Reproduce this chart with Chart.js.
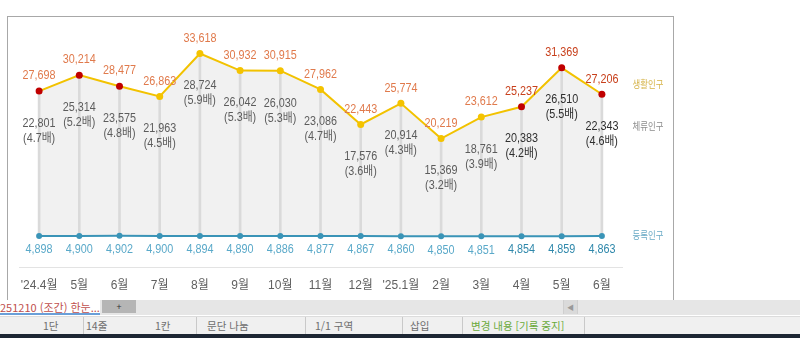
<!DOCTYPE html>
<html lang="ko">
<head>
<meta charset="utf-8">
<title>생활인구 · 체류인구 · 등록인구</title>
<script src="https://cdn.jsdelivr.net/npm/chart.js@4.4.1/dist/chart.umd.min.js"></script>
<style>
  html, body {
    margin: 0;
    padding: 0;
    width: 800px;
    height: 338px;
    overflow: hidden;
    background: #fff;
    font-family: "Noto Sans CJK KR", "Liberation Sans", sans-serif;
  }
  #frame {
    position: absolute;
    left: 7px;
    top: 16px;
    width: 665px;
    height: 290px;
    border: 1px solid #a8a8a8;
    border-bottom: none;
  }
  #chartBox {
    position: absolute;
    left: 0;
    top: 0;
    width: 800px;
    height: 300px;
  }
  #tabs {
    position: absolute;
    left: 0;
    top: 300px;
    width: 800px;
    height: 15px;
    background: #e6e6e6;
  }
  .tab-doc {
    position: absolute;
    left: 0;
    top: 0;
    width: 100px;
    height: 13px;
    background: #fff;
    border-bottom: 2px solid #6a9fd8;
    color: #c0504d;
    font-size: 11px;
    line-height: 14px;
    white-space: nowrap;
    overflow: hidden;
  }
  .tab-add {
    position: absolute;
    left: 102px;
    top: 0;
    width: 34px;
    height: 13px;
    background: #b5b5b5;
    color: #333;
    font-size: 9px;
    line-height: 13px;
    text-align: center;
  }
  .tab-scroll {
    position: absolute;
    left: 563px;
    top: 0;
    width: 13px;
    height: 14px;
    background: #dadada;
    border-left: 1px solid #cfcfcf;
    border-right: 1px solid #cfcfcf;
    color: #999;
    font-size: 7px;
    line-height: 14px;
    text-align: center;
  }
  #status {
    position: absolute;
    left: 0;
    top: 316px;
    width: 800px;
    height: 18px;
    background: #f0f0f0;
    border-top: 1px solid #dcdcdc;
    color: #6e6e6e;
    font-size: 10.5px;
  }
  #status span {
    position: absolute;
    top: 0;
    line-height: 18px;
    white-space: nowrap;
  }
  #status i {
    position: absolute;
    top: 0;
    width: 1px;
    height: 18px;
    background: #c9c9c9;
  }
  #taskbar {
    position: absolute;
    left: 0;
    top: 334px;
    width: 800px;
    height: 4px;
    background: #1d2633;
  }
</style>
</head>
<body>
<div id="frame"></div>
<div id="chartBox"><canvas id="popChart"></canvas></div>

<div id="tabs">
  <div class="tab-doc">251210 (조간) 한눈...</div>
  <div class="tab-add">+</div>
  <div class="tab-scroll">◀</div>
</div>
<div id="status">
  <span style="left:43px">1단</span>
  <i style="left:83px"></i>
  <span style="left:86px">14줄</span>
  <span style="left:155px">1칸</span>
  <i style="left:196px"></i>
  <span style="left:207px">문단 나눔</span>
  <i style="left:305px"></i>
  <span style="left:315px">1/1 구역</span>
  <i style="left:402px"></i>
  <span style="left:410px">삽입</span>
  <i style="left:462px"></i>
  <span style="left:471px; color:#6aaa3c">변경 내용 [기록 중지]</span>
  <i style="left:584px"></i>
</div>
<div id="taskbar"></div>

<script>
// 월별 인구 (명)
var months = ["'24.4월", "5월", "6월", "7월", "8월", "9월", "10월", "11월", "12월", "'25.1월", "2월", "3월", "4월", "5월", "6월"];
var livePop = [27698, 30214, 28477, 26863, 33618, 30932, 30915, 27962, 22443, 25774, 20219, 23612, 25237, 31369, 27206];
var stayPop = [22801, 25314, 23575, 21963, 28724, 26042, 26030, 23086, 17576, 20914, 15369, 18761, 20383, 26510, 22343];
var stayRatio = ["4.7", "5.2", "4.8", "4.5", "5.9", "5.3", "5.3", "4.7", "3.6", "4.3", "3.2", "3.9", "4.2", "5.5", "4.6"];
var regPop = [4898, 4900, 4902, 4900, 4894, 4890, 4886, 4877, 4867, 4860, 4850, 4851, 4854, 4859, 4863];

// 빨간 점으로 표시하는 달, 진하게 쓰는 최근 석 달
var redPoints = [0, 1, 2, 12, 13, 14];
var strongFrom = 12;

var FONT = '"Liberation Sans", "Noto Sans CJK KR", sans-serif';

function fmt(n) {
  return n.toLocaleString("en-US");
}

// 좁은 글꼴처럼 보이도록 가로로 살짝 줄여서 쓴다
function drawText(ctx, text, x, y, color, size, sx) {
  ctx.save();
  ctx.translate(x, y);
  ctx.scale(sx, 1);
  ctx.fillStyle = color;
  ctx.font = size + "px " + FONT;
  ctx.textAlign = "center";
  ctx.textBaseline = "middle";
  ctx.fillText(text, 0, 0);
  ctx.restore();
}

var labelPlugin = {
  id: "popLabels",
  afterDatasetsDraw: function (chart) {
    var ctx = chart.ctx;
    var live = chart.getDatasetMeta(0).data;
    var reg = chart.getDatasetMeta(1).data;
    var stay = chart.getDatasetMeta(3).data;

    live.forEach(function (pt, i) {
      var strong = i >= strongFrom;
      drawText(ctx, fmt(livePop[i]), pt.x, pt.y - 15, strong ? "#c8401c" : "#e07a4c", 12, 0.9);
    });
    stay.forEach(function (pt, i) {
      var c = i >= strongFrom ? "#2e2e2e" : "#5c5c5c";
      drawText(ctx, fmt(stayPop[i]), pt.x, pt.y + 1.5, c, 12, 0.9);
      drawText(ctx, "(" + stayRatio[i] + "배)", pt.x, pt.y + 16.5, c, 12, 0.9);
    });
    reg.forEach(function (pt, i) {
      var c = i >= strongFrom ? "#2f88ab" : "#5aa9c9";
      drawText(ctx, fmt(regPop[i]), pt.x, pt.y + 14, c, 12, 0.9);
    });

    // 오른쪽 계열 이름
    var lx = chart.chartArea.right + 26;
    drawText(ctx, "생활인구", lx, 85, "#d6b44a", 10.5, 0.8);
    drawText(ctx, "체류인구", lx, 127, "#8c8c8c", 10.5, 0.8);
    drawText(ctx, "등록인구", lx, reg[reg.length - 1].y, "#6aaac6", 10.5, 0.8);
  },
};

var dropBars = regPop.map(function (v, i) {
  return [v, livePop[i]];
});
var livePointColors = livePop.map(function (v, i) {
  return redPoints.indexOf(i) >= 0 ? "#c00000" : "#f4c300";
});

var chartPop = new Chart(document.getElementById("popChart"), {
  type: "line",
  data: {
    labels: months,
    datasets: [
      {
        label: "생활인구",
        data: livePop,
        borderColor: "#f2c200",
        borderWidth: 2,
        pointRadius: 3.5,
        pointBorderWidth: 0,
        pointBackgroundColor: livePointColors,
        backgroundColor: "#f1f1f1",
        fill: "+1",
        tension: 0,
      },
      {
        label: "등록인구",
        data: regPop,
        borderColor: "#3a94b7",
        borderWidth: 2,
        pointRadius: 3,
        pointBorderWidth: 0,
        pointBackgroundColor: "#3a94b7",
        fill: false,
      },
      {
        type: "bar",
        label: "drop",
        data: dropBars,
        backgroundColor: "#dadada",
        barThickness: 2,
      },
      {
        label: "체류인구",
        data: stayPop,
        showLine: false,
        pointRadius: 0,
        fill: false,
      },
    ],
  },
  options: {
    responsive: true,
    maintainAspectRatio: false,
    animation: false,
    events: [],
    layout: { padding: { top: 13, left: 19, right: 178, bottom: 0 } },
    plugins: {
      legend: { display: false },
      tooltip: { enabled: false },
      filler: { drawTime: "beforeDatasetsDraw" },
    },
    scales: {
      x: {
        offset: true,
        grid: { display: false, drawTicks: false },
        border: { display: true, color: "#e3e3e3", width: 1 },
        ticks: {
          color: "#606060",
          font: { size: 12, family: FONT },
          padding: 11,
          maxRotation: 0,
          autoSkip: false,
        },
        afterFit: function (scale) {
          scale.height = 33;
        },
      },
      y: {
        display: false,
        min: 0,
        max: 40000,
      },
    },
  },
  plugins: [labelPlugin],
});
</script>
</body>
</html>
